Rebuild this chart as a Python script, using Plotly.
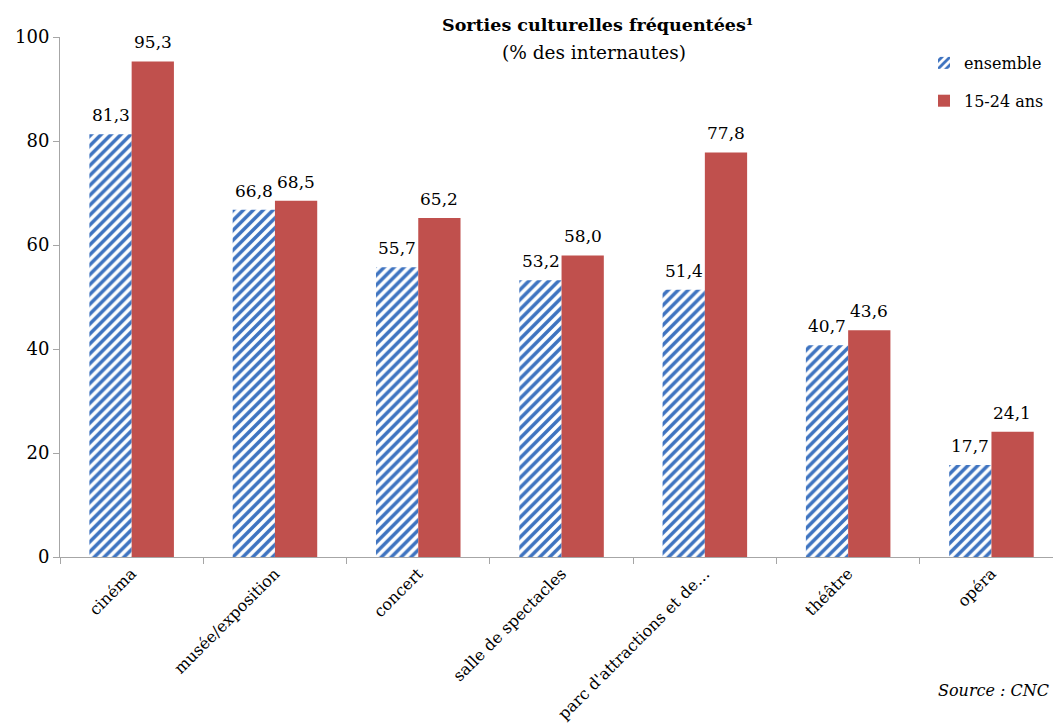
import plotly.graph_objects as go

categories = ["cinéma", "musée/exposition", "concert", "salle de spectacles",
              "parc d'attractions et de…", "théâtre", "opéra"]
ensemble = [81.3, 66.8, 55.7, 53.2, 51.4, 40.7, 17.7]
jeunes = [95.3, 68.5, 65.2, 58.0, 77.8, 43.6, 24.1]
y_ticks = [0, 20, 40, 60, 80, 100]

FONT = "DejaVu Serif"
BLUE = "#3E73C0"
RED = "#C0504D"

def fr(v):
    return f"{v:.1f}".replace(".", ",")

fig = go.Figure()
fig.add_trace(go.Bar(
    x=categories, y=ensemble, name="ensemble", legendgroup="a",
    marker=dict(color="white", line=dict(width=0),
                pattern=dict(shape="/", fgcolor=BLUE, bgcolor="white", fgopacity=1,
                             size=7, solidity=0.5)),
))
fig.add_trace(go.Bar(
    x=categories, y=jeunes, name="15-24 ans", legendgroup="b",
    marker=dict(color=RED, line=dict(width=0)),
))

annotations = []
for c, v in zip(categories, ensemble):
    annotations.append(dict(x=c, y=v, xref="x", yref="y", text=fr(v), showarrow=False,
                            xshift=-21, yshift=7, yanchor="bottom",
                            font=dict(family=FONT, size=17, color="black")))
for c, v in zip(categories, jeunes):
    annotations.append(dict(x=c, y=v, xref="x", yref="y", text=fr(v), showarrow=False,
                            xshift=21, yshift=7, yanchor="bottom",
                            font=dict(family=FONT, size=17, color="black")))

W, H = 1053, 724
L, R, T, B = 60, 0, 37, 167
pw = W - L - R
ph = H - T - B

def px_x(x):
    return (x - L) / pw

def px_y(y):
    return (H - B - y) / ph

annotations.append(dict(x=px_x(597), y=px_y(25), xref="paper", yref="paper",
                        text="<b>Sorties culturelles fréquentées¹</b>", showarrow=False,
                        font=dict(family=FONT, size=17.5, color="black"), yanchor="middle"))
annotations.append(dict(x=px_x(594), y=px_y(52), xref="paper", yref="paper",
                        text="(% des internautes)", showarrow=False,
                        font=dict(family=FONT, size=18.5, color="black"), yanchor="middle"))
annotations.append(dict(x=px_x(1051), y=px_y(690), xref="paper", yref="paper",
                        text="<i>Source : CNC</i>", showarrow=False, xanchor="right",
                        font=dict(family=FONT, size=16, color="black"), yanchor="middle"))

fig.update_layout(
    width=W, height=H,
    margin=dict(l=L, r=R, t=T, b=B, autoexpand=False),
    paper_bgcolor="white", plot_bgcolor="white",
    barmode="group", bargap=0.41, bargroupgap=0,
    font=dict(family=FONT, size=17, color="black"),
    showlegend=True,
    legend=dict(x=px_x(924), y=px_y(46), xanchor="left", yanchor="top",
                traceorder="grouped", tracegroupgap=14,
                font=dict(family=FONT, size=16), bgcolor="rgba(0,0,0,0)"),
    annotations=annotations,
    xaxis=dict(type="category", range=[-0.5, -0.5 + pw / 143.3],
               showline=True, linecolor="#A6A6A6", linewidth=1, automargin=False,
               ticks="outside", tickson="boundaries", ticklen=6, tickcolor="#A6A6A6",
               tickangle=-45, showgrid=False, tickfont=dict(family=FONT, size=16)),
    yaxis=dict(range=[0, 100], tickvals=y_ticks, ticktext=[str(t) for t in y_ticks],
               showline=True, linecolor="#A6A6A6", linewidth=1, automargin=False,
               ticks="outside", ticklen=6, tickcolor="#A6A6A6",
               showgrid=False, zeroline=False, tickfont=dict(family=FONT, size=18)),
)

fig.write_html("out.html")
